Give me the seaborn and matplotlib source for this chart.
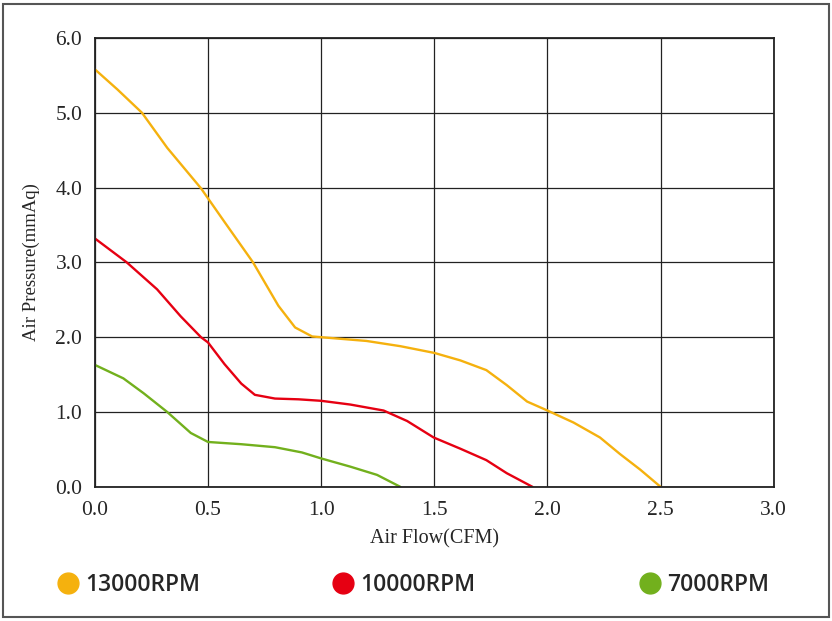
import matplotlib
matplotlib.use("Agg")
import matplotlib.pyplot as plt
from matplotlib.lines import Line2D
from matplotlib.patches import Rectangle
import seaborn as sns
import pandas as pd

# fan curves
flow_13000 = [0.0, 0.1, 0.208, 0.32, 0.469, 0.573, 0.699, 0.811, 0.885, 0.96, 1.0, 1.2, 1.35, 1.5,
              1.615, 1.73, 1.82, 1.91, 2.0, 2.115, 2.232, 2.32, 2.41, 2.5]
pres_13000 = [5.58, 5.31, 5.0, 4.53, 3.99, 3.54, 3.0, 2.42, 2.13, 2.01, 2.0, 1.95, 1.88, 1.79,
              1.69, 1.56, 1.36, 1.14, 1.02, 0.86, 0.66, 0.44, 0.23, 0.0]

flow_10000 = [0.0, 0.141, 0.275, 0.379, 0.469, 0.5, 0.573, 0.647, 0.707, 0.796, 0.9, 1.0, 1.129,
              1.276, 1.38, 1.497, 1.615, 1.73, 1.82, 1.934]
pres_10000 = [3.32, 3.0, 2.64, 2.28, 2.0, 1.93, 1.64, 1.38, 1.23, 1.18, 1.17, 1.15, 1.10,
              1.02, 0.88, 0.66, 0.51, 0.357, 0.183, 0.0]

flow_7000 = [0.0, 0.126, 0.216, 0.32, 0.424, 0.5, 0.647, 0.796, 0.915, 1.0, 1.129, 1.247, 1.35]
pres_7000 = [1.63, 1.45, 1.25, 1.0, 0.72, 0.6, 0.57, 0.53, 0.46, 0.38, 0.27, 0.16, 0.0]

series = ["13000RPM", "10000RPM", "7000RPM"]
colors = ["#F5B10E", "#E60012", "#72B01D"]

x_ticks = [0.0, 0.5, 1.0, 1.5, 2.0, 2.5, 3.0]
y_ticks = [0.0, 1.0, 2.0, 3.0, 4.0, 5.0, 6.0]

records = []
for name, xs, ys in zip(series, [flow_13000, flow_10000, flow_7000], [pres_13000, pres_10000, pres_7000]):
    for x, y in zip(xs, ys):
        records.append({"flow": x, "pressure": y, "speed": name})
df = pd.DataFrame(records)

sns.set_style("white")
plt.rcParams["font.family"] = ["Liberation Serif", "DejaVu Serif"]

fig = plt.figure(figsize=(8.32, 6.21), dpi=100)
ax = fig.add_axes([0.114, 0.216, 0.816, 0.723])

sns.lineplot(data=df, x="flow", y="pressure", hue="speed", hue_order=series,
             palette=colors, linewidth=1.7, legend=False, ax=ax, sort=False)

ax.set_xlim(0, 3.0)
ax.set_ylim(0, 6.0)
ax.set_xticks(x_ticks)
ax.set_yticks(y_ticks)
ax.set_xticklabels(["%.1f" % v for v in x_ticks])
ax.set_yticklabels(["%.1f" % v for v in y_ticks])
ax.grid(True, color="#222222", linewidth=0.9)
ax.set_axisbelow(True)
for s in ax.spines.values():
    s.set_color("#222222")
    s.set_linewidth(1.3)
ax.tick_params(axis="both", labelsize=15.5, direction="in", length=4, width=1.2,
               color="#222222")
ax.tick_params(axis="x", pad=10)
ax.tick_params(axis="y", pad=9)
ax.set_xlabel("Air Flow(CFM)", fontsize=14.5, labelpad=7)
ax.set_ylabel("Air Pressure(mmAq)", fontsize=13.5, labelpad=11)

# one legend entry per slot, spread under the plot like the reference
slots = [0.068, 0.398, 0.768]
for name, c, xpos in zip(series, colors, slots):
    h = Line2D([], [], marker="o", linestyle="none", markersize=15,
               markerfacecolor=c, markeredgecolor=c)
    fig.legend([h], [name], loc="center left", bbox_to_anchor=(xpos, 0.058),
               frameon=False, prop={"family": "Open Sans", "size": 16.5, "weight": "semibold"},
               handletextpad=0.25, borderaxespad=0, borderpad=0, handlelength=1.0)

fig.patches.append(Rectangle((0.004, 0.006), 0.992, 0.988, transform=fig.transFigure,
                             fill=False, edgecolor="#555555", linewidth=1.5))

fig.savefig("out.png", dpi=100)
